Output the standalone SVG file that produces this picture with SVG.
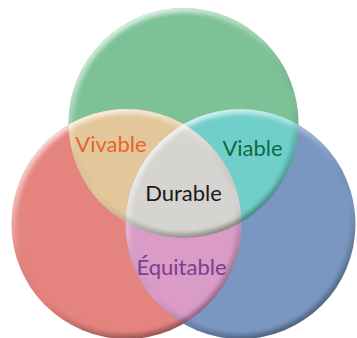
<svg xmlns="http://www.w3.org/2000/svg" width="357" height="338" viewBox="0 0 357 338">
  <style>
    .lbl { font-family: Lato, "Open Sans", "DejaVu Sans", sans-serif; font-size: 22px; text-anchor: middle; }
    .bevel { fill: none; stroke-width: 9; filter: url(#soft); }
  </style>
  <defs>
    <clipPath id="cg"><circle cx="183.5" cy="123" r="115"/></clipPath>
    <clipPath id="cr"><circle cx="126.5" cy="224" r="115"/></clipPath>
    <clipPath id="cb"><circle cx="240.5" cy="224" r="115"/></clipPath>
    <filter id="soft" x="-10%" y="-10%" width="120%" height="120%">
      <feGaussianBlur stdDeviation="2.2"/>
    </filter>
    <linearGradient id="bev" x1="0.25" y1="0" x2="0.75" y2="1">
      <stop offset="0" stop-color="#ffffff" stop-opacity="0.8"/>
      <stop offset="0.35" stop-color="#ffffff" stop-opacity="0.2"/>
      <stop offset="0.6" stop-color="#000000" stop-opacity="0"/>
      <stop offset="1" stop-color="#000000" stop-opacity="0.4"/>
    </linearGradient>
  </defs>

  <g id="circle-green">
    <circle cx="183.5" cy="123" r="115" fill="#7cc296"/>
  </g>
  <g id="circle-red">
    <circle cx="126.5" cy="224" r="115" fill="#e5837e"/>
  </g>
  <g id="circle-blue">
    <circle cx="240.5" cy="224" r="115" fill="#7a97c2"/>
  </g>

  <g id="region-vivable">
    <circle cx="126.5" cy="224" r="115" fill="#e3c79a" clip-path="url(#cg)"/>
  </g>
  <g id="region-viable">
    <circle cx="240.5" cy="224" r="115" fill="#70cfc9" clip-path="url(#cg)"/>
  </g>
  <g id="region-equitable">
    <circle cx="240.5" cy="224" r="115" fill="#da9bc6" clip-path="url(#cr)"/>
  </g>
  <g id="region-durable">
    <g clip-path="url(#cg)">
      <circle cx="240.5" cy="224" r="115" fill="#d6d4d0" clip-path="url(#cr)"/>
    </g>
  </g>

  <g id="bevels">
    <g clip-path="url(#cr)"><circle class="bevel" cx="126.5" cy="224" r="115" stroke="url(#bev)"/></g>
    <g clip-path="url(#cb)"><circle class="bevel" cx="240.5" cy="224" r="115" stroke="url(#bev)"/></g>
    <g clip-path="url(#cg)"><circle class="bevel" cx="183.5" cy="123" r="115" stroke="url(#bev)"/></g>
  </g>

  <g id="labels">
    <text class="lbl" x="111" y="152" fill="#e8632a">Vivable</text>
    <text class="lbl" x="252.5" y="156" fill="#0e6b45">Viable</text>
    <text class="lbl" x="183.5" y="201" fill="#1a1a1a">Durable</text>
    <text class="lbl" x="181.5" y="275" fill="#7a3e8c">Équitable</text>
  </g>
  <g id="connectors"/>
</svg>
